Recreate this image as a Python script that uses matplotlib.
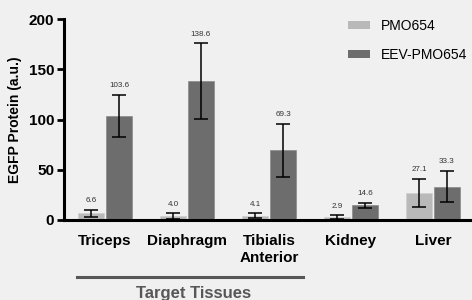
import matplotlib.pyplot as plt
from matplotlib import rcParams
from matplotlib.patches import Patch
import numpy as np

rcParams["font.family"] = ["Liberation Sans", "DejaVu Sans"]

# Paleta
C_BG   = "#f0f0f0"
C_PMO  = "#b9b9b9"
C_EEV  = "#6d6d6d"
C_TXT  = "#333333"
C_GRP  = "#575757"

# ------------------------------------------------------------
# DATOS
# ------------------------------------------------------------
tissues = ["Triceps", "Diaphragm", "Tibialis\nAnterior", "Kidney", "Liver"]
pmo_mean = [6.6, 4.0, 4.1, 2.9, 27.1]
pmo_err  = [3.8, 2.7, 2.6, 1.8, 14.2]
eev_mean = [103.6, 138.6, 69.3, 14.6, 33.3]
eev_err  = [21.3, 37.5, 26.7, 2.5, 15.7]
series_labels = ["PMO654", "EEV-PMO654"]
yticks = [0, 50, 100, 150, 200]

# ------------------------------------------------------------
fig = plt.figure(figsize=(4.72, 3.0), dpi=100, facecolor=C_BG)
ax = fig.add_axes([0.1356, 0.2667, 0.8644, 0.669], facecolor=C_BG)

x = np.arange(len(tissues))
w = 0.317; off = 0.171
ek = dict(ecolor="black", elinewidth=1.1, capsize=5, capthick=1.1)
ax.bar(x - off, pmo_mean, w, yerr=pmo_err, color=C_PMO, edgecolor="#cfcfcf",
       linewidth=0.5, error_kw=ek, zorder=2)
ax.bar(x + off, eev_mean, w, yerr=eev_err, color=C_EEV, edgecolor="#8a8a8a",
       linewidth=0.5, error_kw=ek, zorder=2)

for xs, m, e in [(x - off, pmo_mean, pmo_err), (x + off, eev_mean, eev_err)]:
    for xi, mi, ei in zip(xs, m, e):
        ax.annotate(f"{mi:.1f}", xy=(xi, mi + ei), xytext=(0, 4),
                    textcoords="offset points", ha="center", va="bottom",
                    fontsize=5.8, color=C_TXT)

ax.set_xlim(-0.5, 4.476); ax.set_ylim(0, 200)
ax.set_yticks(yticks)
ax.set_yticklabels([str(t) for t in yticks], fontsize=11, weight="bold")
ax.set_xticks(x)
ax.set_xticklabels(tissues, fontsize=11, weight="bold", linespacing=1.25)
ax.tick_params(axis="x", length=0, pad=10)
ax.tick_params(axis="y", length=5, width=2, pad=2)
ax.set_ylabel("EGFP Protein (a.u.)", fontsize=10, weight="bold", labelpad=5)
for s in ("top", "right"): ax.spines[s].set_visible(False)
for s in ("left", "bottom"): ax.spines[s].set_linewidth(2.2)

# Agrupación de tejidos diana
tr = ax.get_xaxis_transform()
ax.plot([-0.34, 2.41], [-0.284, -0.284], color=C_GRP, lw=2.2,
        transform=tr, clip_on=False)
ax.text(1.08, -0.33, "Target Tissues", transform=tr, ha="center", va="top",
        fontsize=12, weight="bold", color=C_GRP)

legend = [Patch(facecolor=C_PMO, label=series_labels[0]),
          Patch(facecolor=C_EEV, label=series_labels[1])]
ax.legend(handles=legend, loc="upper left", bbox_to_anchor=(0.682, 1.03),
          frameon=False, fontsize=10, handlelength=1.6, handleheight=0.45,
          handletextpad=0.8, labelspacing=1.1, borderaxespad=0)

fig.savefig("out.png", dpi=100, facecolor=C_BG)
